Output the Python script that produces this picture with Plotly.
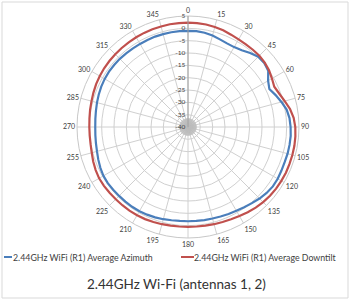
import plotly.graph_objects as go

angles = list(range(0, 361, 5))
azimuth = [-1.0, -1.0, -1.2, -1.6, -2.2, -2.6, -2.6, -2.0, -0.8, 0.3, 0.4, -0.3,
           -2.5, -3.6, -2.2, -0.8, 0.6, 1.3, 1.6, 1.8, 1.8, 1.8, 1.7, 1.8,
           2.0, 2.0, 1.6, 1.0, 0.3, -0.3, -0.8, -1.1, -1.4, -1.6, -1.7, -1.8,
           -1.8, -1.8, -1.6, -1.3, -1.0, -0.8, -0.6, -0.5, -0.5, -0.5, -0.4, -0.3,
           -0.4, -0.8, -1.3, -1.8, -2.1, -2.3, -2.4, -2.3, -2.1, -1.8, -1.5, -1.2,
           -1.0, -0.9, -0.9, -0.9, -1.0, -1.1, -1.1, -1.1, -1.0, -1.0, -1.0, -1.0,
           -1.0]
downtilt = [2.3, 2.3, 2.2, 2.0, 1.7, 1.3, 1.0, 0.9, 0.9, 0.9, 0.6, 0.1,
            -0.7, -1.4, -0.6, 0.6, 2.0, 3.0, 3.5, 3.7, 3.8, 3.8, 3.8, 3.8,
            3.7, 3.6, 3.4, 3.1, 2.7, 2.2, 1.7, 1.3, 1.0, 0.8, 0.6, 0.5,
            0.5, 0.5, 0.6, 0.8, 1.0, 1.2, 1.3, 1.4, 1.4, 1.4, 1.5, 1.6,
            1.6, 1.3, 0.9, 0.4, 0.1, 0.0, 0.0, 0.1, 0.3, 0.5, 0.8, 1.1,
            1.3, 1.5, 1.6, 1.7, 1.8, 1.9, 2.0, 2.1, 2.2, 2.2, 2.3, 2.3,
            2.3]
series_names = ["2.44GHz WiFi (R1) Average Azimuth", "2.44GHz WiFi (R1) Average Downtilt"]
series_colors = ["#4a7ebb", "#c0504d"]
angle_ticks = list(range(0, 360, 15))
radial_ticks = list(range(-40, 6, 5))
minor_spokes = list(range(0, 360, 3))
title_text = "2.44GHz Wi-Fi (antennas 1, 2)"

FONT = "Lato"

fig = go.Figure()
# dense category spokes near the centre (Excel radar style)
sp_r, sp_t = [], []
for a in minor_spokes:
    sp_r += [-40, -36.5, None]
    sp_t += [a, a, None]
fig.add_trace(go.Scatterpolar(r=sp_r, theta=sp_t, mode="lines", hoverinfo="skip",
                              line=dict(color="#bdbdbd", width=0.7), showlegend=False))
for vals, name, col in zip([azimuth, downtilt], series_names, series_colors):
    fig.add_trace(go.Scatterpolar(r=vals, theta=angles, mode="lines", name=name,
                                  line=dict(color=col, width=2.2), showlegend=False))

W, H = 351, 305
cx, cy, R = 188, 127, 111
fig.update_layout(
    width=W, height=H,
    margin=dict(l=0, r=0, t=0, b=0),
    paper_bgcolor="white",
    font=dict(family=FONT, color="#595959"),
    polar=dict(
        domain=dict(x=[(cx - R) / W, (cx + R) / W], y=[(H - cy - R) / H, (H - cy + R) / H]),
        bgcolor="white",
        angularaxis=dict(direction="clockwise", rotation=90, tickvals=angle_ticks,
                         ticktext=[str(a) for a in angle_ticks],
                         tickfont=dict(size=7, color="#404040"),
                         gridcolor="#d0d0d0", gridwidth=1, showline=True,
                         linecolor="#c8c8c8", linewidth=1, ticks=""),
        radialaxis=dict(range=[-40, 5], tickvals=radial_ticks,
                        ticktext=[str(v) for v in radial_ticks],
                        angle=90, tickangle=90, side="counterclockwise",
                        tickfont=dict(size=6.5, color="#404040"),
                        gridcolor="#d0d0d0", gridwidth=1, showline=True,
                        linecolor="#a0a0a0", linewidth=1, ticks=""),
    ),
)

# legend (drawn manually to match compact Excel legend)
leg_y = 1 - 257 / H
fig.add_shape(type="line", xref="paper", yref="paper", x0=4 / W, x1=12 / W, y0=leg_y, y1=leg_y,
              line=dict(color=series_colors[0], width=2))
fig.add_annotation(xref="paper", yref="paper", x=11 / W, y=leg_y, xanchor="left", yanchor="middle",
                   text=series_names[0], showarrow=False, font=dict(size=8.8, color="#404040", family=FONT))
fig.add_shape(type="line", xref="paper", yref="paper", x0=181 / W, x1=194 / W, y0=leg_y, y1=leg_y,
              line=dict(color=series_colors[1], width=2))
fig.add_annotation(xref="paper", yref="paper", x=192 / W, y=leg_y, xanchor="left", yanchor="middle",
                   text=series_names[1], showarrow=False, font=dict(size=8.8, color="#404040", family=FONT))
fig.add_annotation(xref="paper", yref="paper", x=176 / W, y=1 - 284 / H, xanchor="center", yanchor="middle",
                   text=title_text, showarrow=False, font=dict(size=13.5, color="#333333", family=FONT))
fig.add_shape(type="rect", xref="paper", yref="paper", x0=2 / W, x1=348 / W, y0=1 - 298 / H, y1=1 - 2 / H,
              line=dict(color="#d9d9d9", width=1))

fig.write_html("out.html", config={"displayModeBar": False},
               post_script="document.body.style.margin='0';document.body.style.overflow='hidden';")
